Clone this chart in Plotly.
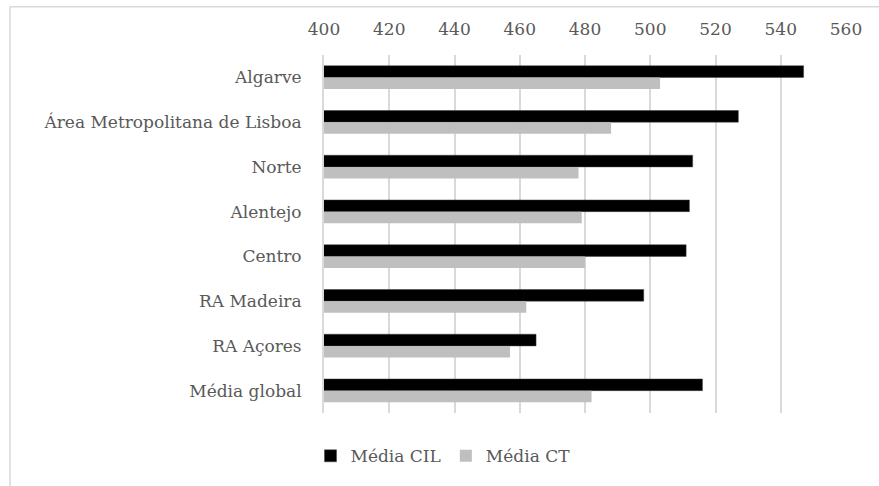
import plotly.graph_objects as go

categories = ["Algarve", "Área Metropolitana de Lisboa", "Norte", "Alentejo",
              "Centro", "RA Madeira", "RA Açores", "Média global"]
media_cil = [547, 527, 513, 512, 511, 498, 465, 516]
media_ct = [503, 488, 478, 479, 480, 462, 457, 482]
x_ticks = [400, 420, 440, 460, 480, 500, 520, 540, 560]

FONT = "DejaVu Serif"
TXT = "#595959"
GRID = "#d9d9d9"
FS = 17

fig = go.Figure()
fig.add_trace(go.Bar(y=categories, x=media_cil, orientation="h", name="Média CIL",
                     marker=dict(color="#000000", line=dict(color="#404040", width=0.5))))
fig.add_trace(go.Bar(y=categories, x=media_ct, orientation="h", name="Média CT",
                     marker=dict(color="#bfbfbf", line=dict(width=0))))

W, H = 879, 486
L, R, T, B = 324, 33, 55, 67
pw, ph = W - L - R, H - T - B

def px2x(px):
    return (px - L) / pw

def py2y(py):
    return (H - B - py) / ph

fig.update_layout(
    width=W, height=H,
    margin=dict(l=L, r=R, t=T, b=B, pad=0),
    paper_bgcolor="white", plot_bgcolor="white",
    barmode="group", bargap=0.48, bargroupgap=0,
    font=dict(family=FONT, size=FS, color=TXT),
    showlegend=True,
    legend=dict(orientation="h", x=px2x(443), xanchor="center",
                y=py2y(463), yanchor="middle",
                font=dict(family=FONT, size=FS, color=TXT),
                itemwidth=30, traceorder="normal"),
    xaxis=dict(side="top", range=[400, 560], tickvals=x_ticks,
               showgrid=True, gridcolor=GRID, gridwidth=2,
               zeroline=False, showline=False, ticks="",
               ticklabelstandoff=16,
               tickfont=dict(family=FONT, size=FS, color=TXT)),
    yaxis=dict(autorange="reversed", showgrid=False, zeroline=False,
               showline=True, linecolor=GRID, linewidth=2, ticks="",
               ticklabelstandoff=17,
               tickfont=dict(family=FONT, size=FS, color=TXT)),
    shapes=[dict(type="rect", xref="paper", yref="paper",
                 x0=px2x(10), x1=px2x(900), y0=py2y(520), y1=py2y(6),
                 line=dict(color=GRID, width=1.5), fillcolor="rgba(0,0,0,0)",
                 layer="below")],
)

fig.write_html("out.html")
